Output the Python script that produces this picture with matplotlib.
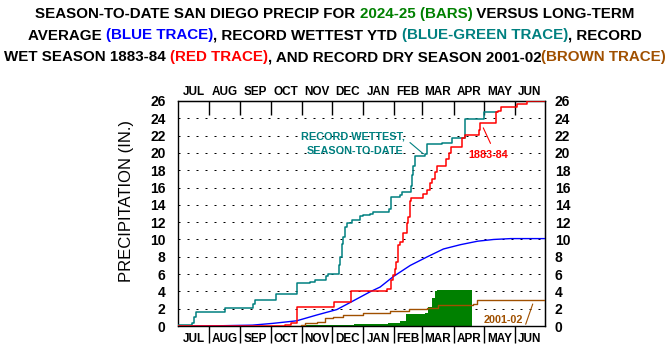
import matplotlib
matplotlib.use("Agg")
import matplotlib.pyplot as plt

# ---------------- data ----------------
month_names = ["JUL", "AUG", "SEP", "OCT", "NOV", "DEC",
               "JAN", "FEB", "MAR", "APR", "MAY", "JUN"]
month_starts = [0, 31, 62, 92, 123, 153, 184, 215, 243, 274, 304, 335, 365]

# long-term average (blue)
avg_days = [0, 38, 74, 94, 118, 138, 158, 171, 191, 201, 214, 231, 248,
            264, 281, 298, 314, 331, 365]
avg_vals = [0.0, 0.02, 0.1, 0.3, 0.6, 1.27, 1.9, 2.7, 3.95, 4.5, 5.7, 7.0,
            8.0, 8.9, 9.4, 9.8, 10.0, 10.1, 10.1]

# record wettest season-to-date (blue-green)
wet_ytd_days = [0, 14, 16, 18, 47, 75, 77, 97, 118, 131, 136, 147, 149,
                160, 161, 163, 164, 166, 168, 173, 181, 184, 191, 194, 210,
                212, 221, 223, 232, 233, 234, 236, 246, 248, 263, 273, 285,
                304, 317]
wet_ytd_vals = [0.1, 0.3, 1.0, 1.65, 2.1, 2.6, 3.0, 3.7, 4.93, 5.1, 5.3,
                5.75, 6.05, 7.0, 8.0, 9.5, 10.3, 11.4, 11.9, 12.2, 12.66,
                12.8, 13.0, 13.15, 13.5, 14.9, 15.1, 15.5, 16.2, 17.4, 18.5,
                19.7, 19.9, 21.0, 21.2, 21.7, 23.9, 24.7, 24.7]

# record wet season 1883-84 (red)
wet_1884_days = [0, 106, 112, 118, 155, 172, 208, 212, 214, 216, 217, 219,
                 221, 224, 228, 229, 231, 232, 244, 248, 251, 253, 256, 258,
                 267, 270, 272, 282, 285, 299, 300, 316, 318, 321, 337, 347,
                 365]
wet_1884_vals = [0.0, 0.15, 0.3, 2.15, 2.75, 4.05, 4.25, 5.3, 5.9, 6.6, 7.4,
                 9.4, 9.75, 10.7, 11.9, 12.6, 14.4, 14.75, 15.3, 15.7, 16.5,
                 17.0, 17.8, 18.5, 19.3, 19.95, 20.7, 21.7, 22.05, 22.6, 23.5,
                 24.7, 24.9, 25.3, 25.7, 25.95, 25.95]

# record dry season 2001-02 (brown)
dry_2002_days = [0, 122, 126, 138, 146, 154, 164, 184, 211, 230, 248, 259,
                 293, 297, 365]
dry_2002_vals = [0.0, 0.1, 0.3, 0.5, 0.9, 1.07, 1.27, 1.55, 1.75, 1.95, 2.1,
                 2.4, 2.6, 3.0, 3.0]

# season 2024-25 (green bars)
cur_days = [0, 124, 175, 209, 221, 227, 246, 249, 253, 256, 258, 292]
cur_vals = [0.0, 0.1, 0.2, 0.4, 0.6, 1.35, 1.5, 2.2, 3.2, 4.05, 4.2, 4.2]

y_ticks = list(range(0, 27, 2))

# ---------------- style ----------------
FONT = "Liberation Sans"

GREEN = "#008000"
TEAL = "#008080"
RED = "#FF0000"
BLUE = "#0000FF"
BROWN = "#A05000"

W, H = 670, 356
fig = plt.figure(figsize=(W / 100, H / 100), dpi=100)
fig.patch.set_facecolor("white")
ax = fig.add_axes([178 / W, 30 / H, 367 / W, 225 / H])

# traces
ax.fill_between(cur_days, cur_vals, step="post", color=GREEN, linewidth=0, zorder=2)
ax.step(dry_2002_days, dry_2002_vals, where="post", color=BROWN, lw=1.0, zorder=3)
ax.plot(avg_days, avg_vals, color=BLUE, lw=1.0, zorder=4)
ax.step(wet_ytd_days, wet_ytd_vals, where="post", color=TEAL, lw=1.1, zorder=5)
ax.step(wet_1884_days, wet_1884_vals, where="post", color=RED, lw=1.1, zorder=6)

ax.set_xlim(0, 365)
ax.set_ylim(0, 26)

for s in ax.spines.values():
    s.set_linewidth(1.0)
    s.set_color("black")

# grid
ax.set_yticks(y_ticks)
ax.grid(axis="y", color="black", linestyle=(0, (2, 7)), linewidth=0.72, zorder=1)
ax.set_axisbelow(True)

tick_font = dict(family=FONT, weight="bold", size=10)
month_font = dict(family=FONT, weight="bold", size=8.5)

ax.set_yticklabels([str(v) for v in y_ticks], fontdict=tick_font)
ax.tick_params(axis="y", length=0, pad=9)

right = ax.secondary_yaxis("right")
right.set_yticks(y_ticks)
right.set_yticklabels([str(v) for v in y_ticks], fontdict=tick_font)
right.tick_params(axis="y", length=0, pad=7)

centers = [(a + b) / 2 for a, b in zip(month_starts[:-1], month_starts[1:])]

ax.set_xticks(month_starts[1:-1])
ax.set_xticklabels([])
ax.tick_params(axis="x", which="major", direction="out", length=12, width=1.0)
ax.set_xticks(centers, minor=True)
ax.set_xticklabels(month_names, minor=True, fontdict=month_font)
ax.tick_params(axis="x", which="minor", length=0, pad=5)

top = ax.secondary_xaxis("top")
top.set_xticks(month_starts[1:-1])
top.set_xticklabels([])
top.tick_params(axis="x", which="major", direction="in", length=10, width=1.0)
top.set_xticks(centers, minor=True)
top.set_xticklabels(month_names, minor=True, fontdict=month_font)
top.tick_params(axis="x", which="minor", length=0, pad=2.5)

fig.text(127 / W, 1 - 201 / H, "PRECIPITATION (IN.)", rotation=90,
         ha="center", va="center", fontsize=12, family=FONT)

# annotations
ann_font = dict(family=FONT, weight="bold", fontsize=7.8)
ax.text(174.0, 21.87, "RECORD WETTEST,", color=TEAL, ha="center", va="center", **ann_font)
ax.text(176.0, 20.22, "SEASON-TO-DATE", color=TEAL, ha="center", va="center", **ann_font)
ax.annotate("", xy=(243.9, 19.9), xytext=(230.7, 21.2),
            arrowprops=dict(arrowstyle="-", color=TEAL, lw=0.8, shrinkA=0, shrinkB=0))
ax.text(308.8, 19.76, "1883-84", color=RED, ha="center", va="center", **ann_font)
ax.annotate("", xy=(310.8, 21.1), xytext=(303.6, 22.9),
            arrowprops=dict(arrowstyle="-", color=RED, lw=0.8, shrinkA=0, shrinkB=0))
ax.text(323.7, 0.69, "2001-02", color=BROWN, ha="center", va="center", **ann_font)
ax.annotate("", xy=(352.8, 2.54), xytext=(345.8, 0.2),
            arrowprops=dict(arrowstyle="-", color=BROWN, lw=0.8, shrinkA=0, shrinkB=0))

# title (multi-coloured, three centred lines)
title_lines = [
    [("SEASON-TO-DATE SAN DIEGO PRECIP FOR ", "black"), ("2024-25 (BARS)", GREEN),
     (" VERSUS LONG-TERM", "black")],
    [("AVERAGE ", "black"), ("(BLUE TRACE)", BLUE), (", RECORD WETTEST YTD ", "black"),
     ("(BLUE-GREEN TRACE)", TEAL), (", RECORD", "black")],
    [("WET SEASON 1883-84 ", "black"), ("(RED TRACE)", RED),
     (", AND RECORD DRY SEASON 2001-02", "black"), ("(BROWN TRACE)", BROWN)],
]
baselines = [18, 39.5, 61]

renderer = fig.canvas.get_renderer()


def text_width(s, size):
    t = fig.text(0, 0, s, family=FONT, weight="bold", size=size)
    w = t.get_window_extent(renderer).width
    t.remove()
    return w


# fit the widest title line to the reference width (~659 px)
line3 = "".join(s for s, _ in title_lines[2])
tsize = 12 * 659 / text_width(line3, 12)

bar_w = text_width("|", tsize)
for segs, base in zip(title_lines, baselines):
    full = "".join(s for s, _ in segs)
    total = text_width(full, tsize)
    x0 = W / 2 - total / 2
    prefix = ""
    for s, c in segs:
        off = text_width(prefix + "|", tsize) - bar_w if prefix else 0.0
        fig.text((x0 + off) / W, 1 - base / H, s, color=c, ha="left",
                 va="baseline", family=FONT, weight="bold", size=tsize)
        prefix += s

fig.savefig("out.png", dpi=100, facecolor="white")
